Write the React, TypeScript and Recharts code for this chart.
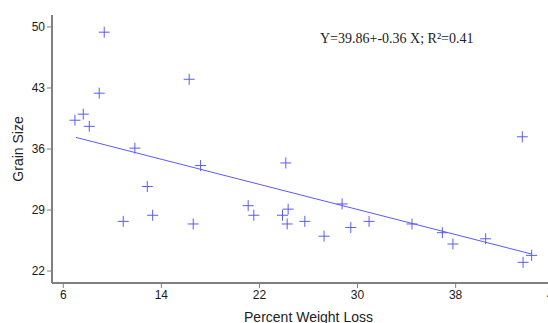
import { ScatterChart, Scatter, XAxis, YAxis, ReferenceLine } from 'recharts';

// percent weight loss (x) and grain size (y)
const lossPct = [
  9.34, 8.93, 6.95, 7.63, 8.12, 11.84, 16.27, 12.85, 10.89, 13.29,
  16.6, 17.2, 24.15, 21.08, 21.54, 23.88, 24.34, 24.26, 25.7, 27.27,
  28.74, 29.45, 30.94, 34.44, 36.92, 37.78, 40.45, 43.5, 44.2, 43.44,
];
const grainSize = [
  49.4, 42.4, 39.3, 40.0, 38.6, 36.1, 44.0, 31.7, 27.7, 28.4,
  27.4, 34.1, 34.4, 29.5, 28.4, 28.4, 29.1, 27.4, 27.7, 26.0,
  29.7, 27.0, 27.7, 27.4, 26.4, 25.1, 25.7, 23.0, 23.8, 37.4,
];
const fitX = [7.03, 44.2];
const fitY = [37.33, 23.95];
const xTicks = [6, 14, 22, 30, 38, 46];
const yTicks = [22, 29, 36, 43, 50];

const points = lossPct.map((x, i) => ({ x, y: grainSize[i] }));
const blue = '#5a5aff';
const axisGray = '#808080';
const tickFont = { fontFamily: 'Liberation Sans, Arial, sans-serif', fontSize: 12, fill: '#1a1a1a' };

function Cross(props: any) {
  const { cx, cy } = props;
  return (
    <g stroke={blue} strokeWidth={1}>
      <line x1={cx - 5.5} x2={cx + 5.5} y1={cy} y2={cy} />
      <line x1={cx} x2={cx} y1={cy - 5.5} y2={cy + 5.5} />
    </g>
  );
}

function YTitle(props: any) {
  const { viewBox } = props;
  const cy = viewBox.y + viewBox.height / 2;
  return (
    <text
      x={18}
      y={cy}
      transform={`rotate(-90 18 ${cy})`}
      textAnchor="middle"
      dominantBaseline="central"
      style={{ fontFamily: 'Liberation Sans, Arial, sans-serif', fontSize: 14, fill: '#222' }}
    >
      Grain Size
    </text>
  );
}

export default function App() {
  return (
    <div style={{ position: 'fixed', left: 0, top: 0, width: 548, height: 323, overflow: 'hidden', background: '#fff' }}>
      <ScatterChart width={580} height={323} margin={{ top: 15, right: 15, bottom: 0, left: 0 }}>
        <XAxis
          type="number"
          dataKey="x"
          domain={[5.08, 46.92]}
          ticks={xTicks}
          height={40}
          tick={tickFont}
          tickSize={5}
          tickLine={{ stroke: axisGray }}
          axisLine={{ stroke: axisGray, strokeWidth: 2 }}
          label={{
            value: 'Percent Weight Loss',
            position: 'insideBottom',
            offset: 1,
            style: { fontFamily: 'Liberation Sans, Arial, sans-serif', fontSize: 14, fill: '#222' },
          }}
        />
        <XAxis
          xAxisId="top"
          orientation="top"
          type="number"
          domain={[5.08, 46.92]}
          height={0}
          tick={false}
          tickLine={false}
          axisLine={{ stroke: '#999', strokeWidth: 1.5 }}
        />
        <YAxis
          type="number"
          dataKey="y"
          domain={[20.63, 51.37]}
          ticks={yTicks}
          width={52}
          tick={tickFont}
          tickSize={5}
          tickLine={{ stroke: axisGray }}
          axisLine={{ stroke: axisGray, strokeWidth: 2 }}
          label={<YTitle />}
        />
        <ReferenceLine
          segment={[{ x: fitX[0], y: fitY[0] }, { x: fitX[1], y: fitY[1] }]}
          stroke={blue}
          strokeWidth={1}
          ifOverflow="visible"
        />
        <Scatter data={points} shape={<Cross />} isAnimationActive={false} />
      </ScatterChart>
      <div
        style={{
          position: 'absolute',
          left: 320,
          top: 31,
          fontFamily: 'Liberation Serif, serif',
          fontSize: 14,
          color: '#222',
          whiteSpace: 'nowrap',
        }}
      >
        Y=39.86+-0.36 X; R²=0.41
      </div>
    </div>
  );
}
